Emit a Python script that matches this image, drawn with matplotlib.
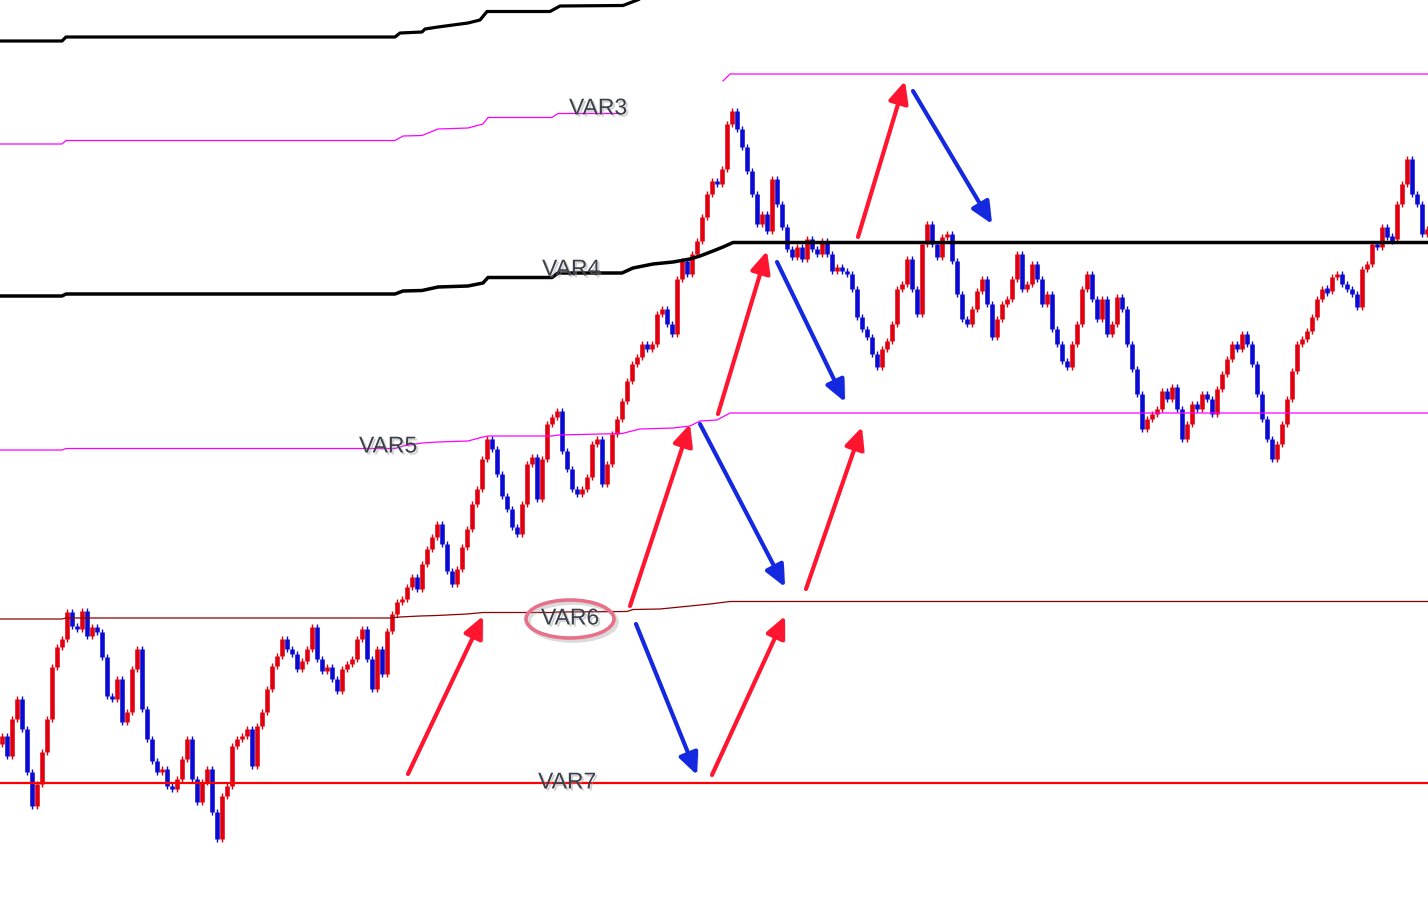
import numpy as np
import matplotlib
matplotlib.use("Agg")
import matplotlib.pyplot as plt
import matplotlib.patheffects as pe
from matplotlib.patches import FancyArrowPatch, Ellipse

# ---- price series: closes (screen-y units, smaller = higher price), one bar every 5 px ----
bar_x0 = 2
bar_step = 5
closes = [
    737, 757, 720, 700, 730, 773, 807, 785, 753, 720,
    668, 648, 640, 613, 627, 630, 612, 637, 628, 633,
    658, 697, 700, 680, 723, 713, 670, 650, 710, 740,
    762, 773, 770, 787, 790, 780, 760, 740, 780, 803,
    783, 770, 813, 840, 797, 787, 747, 740, 737, 730,
    767, 727, 713, 690, 667, 657, 640, 650, 655, 670,
    662, 650, 628, 660, 672, 668, 680, 692, 670, 665,
    660, 640, 630, 660, 690, 650, 675, 632, 615, 603,
    600, 588, 578, 590, 565, 550, 538, 525, 545, 572,
    585, 570, 548, 530, 505, 490, 460, 440, 450, 475,
    497, 510, 528, 535, 505, 465, 458, 500, 460, 425,
    418, 412, 452, 470, 490, 495, 490, 478, 445, 440,
    485, 465, 435, 420, 402, 382, 365, 358, 345, 350,
    345, 315, 310, 325, 335, 280, 262, 275, 255, 242,
    218, 195, 182, 185, 170, 125, 112, 130, 148, 172,
    195, 225, 215, 232, 180, 205, 228, 250, 258, 248,
    260, 240, 250, 255, 242, 255, 272, 268, 272, 275,
    290, 318, 330, 338, 355, 368, 350, 342, 325, 290,
    285, 260, 290, 315, 245, 225, 245, 258, 238, 235,
    262, 295, 320, 325, 310, 292, 280, 305, 338, 320,
    305, 300, 280, 255, 290, 285, 265, 280, 305, 295,
    330, 345, 362, 368, 345, 325, 290, 275, 300, 320,
    300, 335, 325, 298, 310, 345, 370, 395, 430, 420,
    415, 410, 392, 400, 388, 410, 440, 425, 405, 410,
    395, 400, 415, 390, 375, 360, 345, 350, 335, 345,
    365, 395, 420, 440, 460, 445, 425, 400, 372, 345,
    340, 332, 318, 300, 290, 292, 278, 275, 285, 290,
    295, 308, 270, 265, 245, 248, 228, 238, 240, 205,
    185, 160, 195, 205, 235, 230,
]
first_open = 745

# ---- indicator lines (screen-y units) ----
top_x = [0, 62, 66, 395, 400, 422, 425, 438, 468, 480, 487, 550, 560, 623, 640, 660]
top_y = [42, 42, 38, 38, 34, 33, 30, 28, 24, 21, 12.5, 12.5, 7, 6.5, 0, -5]

var3_x = [0, 62, 66, 395, 403, 422, 438, 468, 483, 488, 552, 558, 620, np.nan, 723, 730, 1428]
var3_y = [145, 145, 141.5, 141.5, 137, 136.5, 130, 129, 125, 118.5, 118.5, 114.5, 114.5, np.nan, 82, 75, 75]

var4_x = [0, 62, 66, 395, 403, 422, 438, 468, 483, 488, 552, 558, 622, 633, 653, 673, 690, 700, 713, 723, 733, 1428]
var4_y = [297, 297, 295, 295, 292, 291.5, 288, 287, 284, 278.5, 278.5, 274, 274, 269, 265, 263, 260, 257, 252, 248, 243.5, 243.5]

var5_x = [0, 62, 66, 395, 403, 422, 438, 468, 483, 488, 552, 558, 622, 640, 673, 690, 700, 717, 730, 1428]
var5_y = [451, 451, 449.5, 449.5, 447, 444, 443, 442, 438, 437, 437, 436, 434.5, 430, 429, 427, 422, 421, 414, 414]

var6_x = [0, 62, 66, 390, 400, 420, 437, 467, 483, 552, 558, 627, 633, 660, 690, 710, 730, 1428]
var6_y = [620, 620, 619, 619, 618, 617, 616.5, 615, 613.5, 613.5, 613, 612.5, 610.5, 610, 607, 605, 602.5, 602.5]

var7_x = [0, 1428]
var7_y = [784, 784]

# ---- arrows ----
arrow_start = [(408, 775), (630, 607), (718, 415), (858, 238), (712, 776), (806, 590),
               (700, 425), (777, 263), (913, 92), (636, 625)]
arrow_end = [(483, 617), (690, 425), (767, 252), (905, 82), (785, 617), (862, 428),
             (785, 588), (845, 403), (992, 225), (697, 776)]
arrow_dir = ["up", "up", "up", "up", "up", "up", "down", "down", "down", "down"]

# ---- labels ----
label_text = ["VAR3", "VAR4", "VAR5", "VAR6", "VAR7"]
label_x = [598, 571, 388, 570, 567]
label_y = [109, 270, 447, 619, 783]

RED = "#e00010"
BLUE = "#0a0ad2"

fig = plt.figure(figsize=(14.28, 9.12), dpi=100)
ax = fig.add_axes([0, 0, 1, 1])
ax.set_xlim(0, 1428)
ax.set_ylim(912, 0)
ax.axis("off")

# bars
closes_a = np.array(closes, dtype=float)
opens_a = np.concatenate([[first_open], closes_a[:-1]])
bx = bar_x0 + bar_step * np.arange(len(closes_a))
up = closes_a < opens_a
cols = np.where(up, RED, BLUE)
lo = np.minimum(opens_a, closes_a)
hi = np.maximum(opens_a, closes_a)
small = (hi - lo) < 3
lo = np.where(small, lo - 1.5, lo)
hi = np.where(small, hi + 1.5, hi)
ax.vlines(bx, lo - 3, hi + 3, colors=cols, lw=1.0, zorder=2)
ax.vlines(bx, lo, hi, colors=cols, lw=3.3, zorder=3)

# indicator lines
ax.plot(top_x, top_y, color="black", lw=2.3, zorder=4, solid_capstyle="butt")
ax.plot(var3_x, var3_y, color="#ff00ff", lw=0.9, zorder=4)
ax.plot(var4_x, var4_y, color="black", lw=2.5, zorder=4)
ax.plot(var5_x, var5_y, color="#ff00ff", lw=0.9, zorder=4)
ax.plot(var6_x, var6_y, color="#8b0000", lw=0.9, zorder=4)
ax.plot(var7_x, var7_y, color="#ff0000", lw=1.6, zorder=4)

# arrows
for s, e, d in zip(arrow_start, arrow_end, arrow_dir):
    c = "#ff1530" if d == "up" else "#1428e0"
    arr = FancyArrowPatch(s, e, arrowstyle="-|>,head_length=0.65,head_width=0.3",
                          mutation_scale=20, color=c, lw=3.0, zorder=6,
                          shrinkA=0, shrinkB=0)
    arr.set_path_effects([pe.withSimplePatchShadow(offset=(2, -2), shadow_rgbFace="#888888", alpha=0.3)])
    ax.add_patch(arr)

# ellipse around VAR6
ell = Ellipse((570, 620), 88, 38, fill=False, ec="#e8708a", lw=2.6, zorder=7)
ell.set_path_effects([pe.SimpleLineShadow(offset=(2, -2), shadow_color="#999999", alpha=0.35, linewidth=3),
                      pe.Normal()])
ax.add_patch(ell)

for t, x, y in zip(label_text, label_x, label_y):
    ax.text(x, y, t, ha="center", va="center", fontsize=16.5, color="#3a3f4b",
            family=["Liberation Sans", "DejaVu Sans"], zorder=8,
            path_effects=[pe.SimplePatchShadow(offset=(1.5, -1.5), shadow_rgbFace="#9a9a9a", alpha=0.45),
                          pe.Normal()])

fig.savefig("out.png", dpi=100, facecolor="white")
